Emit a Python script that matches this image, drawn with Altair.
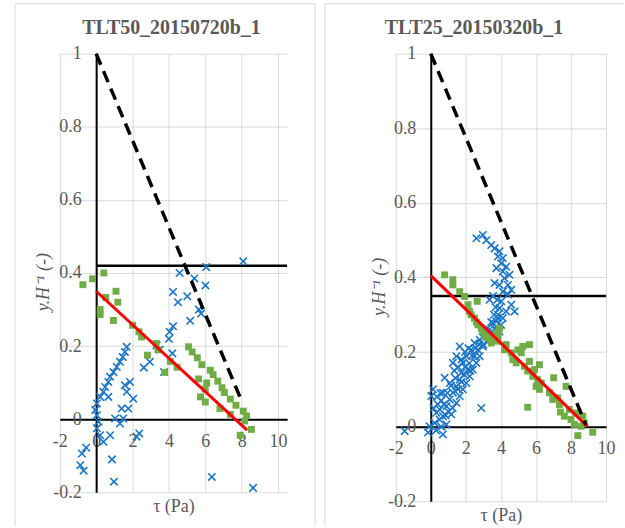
import altair as alt
import pandas as pd

# ---------------- TLT50_20150720b_1 ----------------
left_green_tau = [-0.73, -0.2, 0.42, 0.53, 1.09, 1.19, 0.22, 0.22, 0.95, 2.0, 2.35, 2.5, 3.3, 3.4,
                  2.82, 4.08, 3.77, 4.45, 5.08, 5.28, 5.56, 5.81, 6.28, 6.43, 6.69, 6.92, 7.05,
                  7.38, 7.69, 8.09, 8.27, 8.16, 8.54, 7.92, 6.08, 5.63, 6.0, 5.74, 6.0, 6.81, 7.38]
left_green_y = [0.368, 0.384, 0.40, 0.333, 0.35, 0.32, 0.30, 0.286, 0.27, 0.257, 0.239, 0.225, 0.207,
                0.19, 0.175, 0.158, 0.128, 0.142, 0.198, 0.184, 0.168, 0.149, 0.134, 0.122, 0.104,
                0.086, 0.073, 0.055, 0.038, 0.022, 0.009, -0.005, -0.028, -0.044, 0.099, 0.110,
                0.082, 0.061, 0.047, 0.029, 0.013]

left_blue_tau = [1.68, 1.58, 1.46, 1.31, 1.13, 0.95, 0.77, 0.67, 0.49, 0.40, 0.22, 0.04, -0.05, 0.04,
                 0.13, 0.04, 0.22, 0.40, 0.77, 1.04, 1.31, 1.49, 1.40, 1.68, 1.86, 1.58, 2.04,
                 1.77, 0.67, 2.62, 2.95, 3.73, -0.87, -0.69, -0.78, -0.55, 0.87, 0.98, 6.36,
                 8.63, 8.09, 6.05, 6.01, 5.4, 5.01, 4.59, 4.23, 4.5, 5.17, 5.65, 5.77, 4.23,
                 4.04, 4.0, 3.32, 3.5, 4.19, 2.37, 2.22]
left_blue_y = [0.198, 0.184, 0.17, 0.157, 0.143, 0.129, 0.116, 0.102, 0.088, 0.075, 0.061, 0.043,
               0.025, 0.011, -0.007, -0.025, -0.044, -0.062, -0.044, 0.002, -0.012, 0.002, 0.029,
               0.075, 0.102, 0.093, 0.056, 0.029, 0.061, 0.141, 0.157, 0.129, -0.126, -0.141,
               -0.094, -0.078, -0.11, -0.171, -0.158, -0.188, 0.432, 0.416, 0.366, 0.385, 0.336,
               0.40, 0.348, 0.32, 0.269, 0.30, 0.289, 0.254, 0.239, 0.22, 0.202, 0.19, 0.18,
               -0.039, -0.048]

left_fit_tau = [0.0, 8.3]
left_fit_y = [0.35, -0.03]
left_dash_tau = [0.0, 8.0]
left_dash_y = [1.0, 0.05]
left_level = 0.42

# ---------------- TLT25_20150320b_1 ----------------
right_green_tau = [0.79, 1.26, 1.26, 1.65, 1.93, 2.65, 2.12, 2.21, 2.49, 2.69, 2.88, 3.07, 3.26, 3.64,
                   3.74, 3.45, 3.83, 3.83, 4.3, 4.21, 4.59, 4.68, 4.97, 5.25, 5.16, 4.87, 5.34,
                   5.63, 5.53, 6.2, 5.92, 5.82, 6.1, 6.01, 6.3, 6.2, 7.01, 6.77, 6.96, 7.24, 7.34,
                   7.72, 7.62, 7.9, 8.0, 8.28, 8.19, 8.67, 8.76, 8.58, 8.39, 9.24, 5.53, 3.92,
                   7.4, 5.63, 2.3, 2.6, 2.95, 3.15, 3.5]
right_green_y = [0.407, 0.394, 0.38, 0.362, 0.349, 0.336, 0.327, 0.309, 0.291, 0.273, 0.264, 0.247,
                 0.238, 0.233, 0.251, 0.224, 0.247, 0.229, 0.22, 0.206, 0.198, 0.18, 0.206, 0.215,
                 0.198, 0.171, 0.162, 0.175, 0.149, 0.166, 0.153, 0.135, 0.126, 0.108, 0.117, 0.1,
                 0.131, 0.091, 0.073, 0.077, 0.059, 0.108, 0.028, 0.046, 0.019, 0.037, 0.006,
                 0.028, 0.01, 0.001, -0.024, -0.015, 0.052, 0.264, 0.039, 0.22, 0.30, 0.28, 0.255,
                 0.24, 0.235]

right_blue_tau = [2.6, 2.97, 3.17, 3.45, 3.64, 3.92, 3.83, 4.11, 4.02, 4.3, 3.74, 4.11, 4.49, 4.2,
                  3.64, 3.92, 4.4, 4.59, 4.11, 3.35, 4.4, 4.02, 4.59, 3.92, 4.3, 3.83, 4.11, 3.74,
                  4.02, 3.64, 3.92, 4.78,
                  -0.07, 0.22, 0.13, 0.03, 0.79, 0.32, 0.51, 0.69, 0.89, 0.51, 1.08, 1.26, 1.46,
                  1.65, 1.17, 0.89, 1.46, 1.65, 1.83, 2.03, 2.22, 2.4, 2.6, 2.79, 1.26, 1.46, 1.65,
                  1.83, 2.03, 2.12, 2.31, 2.5, 2.79, 2.97, 2.69, 3.17, 3.35, 3.54, 3.83, 2.88,
                  1.74, 1.08, 0.69, -1.49, -0.16, 0.69, 0.4, 0.6, 1.0, 1.9, 2.2, 2.5, 3.0, 3.3,
                  1.4, 0.3,
                  0.15, 0.35, 0.55, 0.75, 0.95, 1.15, 1.35, 1.55, 1.75, 1.95, 2.15, 2.35, 2.55,
                  2.75, 2.95, 3.15, 3.45, 1.55, 1.75, 1.95, 2.25, 0.6, 0.85, 1.25, 3.6, 3.7,
                  3.55, 3.8]
right_blue_y = [0.505, 0.514, 0.50, 0.487, 0.478, 0.47, 0.456, 0.452, 0.438, 0.429, 0.425, 0.416,
                0.407, 0.398, 0.385, 0.38, 0.38, 0.367, 0.362, 0.34, 0.354, 0.336, 0.327, 0.318,
                0.309, 0.30, 0.291, 0.282, 0.273, 0.264, 0.255, 0.309,
                0.001, 0.01, 0.10, 0.082, 0.131, 0.037, 0.046, 0.028, 0.055, 0.019, 0.073, 0.091,
                0.108, 0.126, 0.033, 0.006, 0.064, 0.082, 0.10, 0.117, 0.135, 0.153, 0.171, 0.189,
                0.171, 0.189, 0.215, 0.171, 0.189, 0.153, 0.206, 0.224, 0.233, 0.215, 0.206,
                0.242, 0.26, 0.278, 0.291, 0.05, 0.144, 0.117, 0.091, -0.012, -0.016, -0.021,
                0.06, 0.07, 0.04, 0.14, 0.17, 0.19, 0.22, 0.23, 0.13, -0.01,
                0.05, 0.08, 0.09, 0.06, 0.09, 0.11, 0.15, 0.16, 0.18, 0.20, 0.21, 0.19, 0.21,
                0.22, 0.24, 0.26, 0.28, 0.10, 0.12, 0.16, 0.15, 0.0, 0.03, 0.05, 0.30, 0.32,
                0.35, 0.34]

right_fit_tau = [0.0, 8.95]
right_fit_y = [0.405, 0.0]
right_dash_tau = [0.0, 8.85]
right_dash_y = [1.0, 0.005]
right_level = 0.35

x_ticks = [-2, 0, 2, 4, 6, 8, 10]
y_ticks = [-0.2, 0, 0.2, 0.4, 0.6, 0.8, 1]

SERIF = "Liberation Serif"
GREY = "#595959"
GRID = "#d9d9d9"
BLUE = "#1b76c6"
GREEN = "#70ad47"
CROSS = "M-1,-1L1,1M-1,1L1,-1"


def panel(title, title_dx, g_tau, g_y, b_tau, b_y, f_tau, f_y, d_tau, d_y, level,
          x_max, w, h, left_border, right_border):
    y_min, y_max = -0.2, 1.0
    x_min = -2.0
    # where the zero lines sit inside the plot area
    x0 = w * (0 - x_min) / (x_max - x_min)
    y0 = h * (y_max - 0) / (y_max - y_min)

    xs = alt.Scale(domain=[x_min, x_max], nice=False, zero=False)
    ys = alt.Scale(domain=[y_min, y_max], nice=False, zero=False)

    x_axis = alt.Axis(values=x_ticks, grid=True, gridColor=GRID, gridWidth=1,
                      domainColor="black", domainWidth=2, ticks=False,
                      offset=-(h - y0), labelPadding=13, labelFlush=False,
                      labelOverlap=False, labelFont=SERIF, labelFontSize=18,
                      labelColor=GREY, labelExpr="'' + datum.value",
                      title="τ (Pa)", titleFont=SERIF, titleFontSize=18,
                      titleFontWeight="normal", titleColor=GREY,
                      titleY=(h - y0) + 14, titleBaseline="middle")
    y_axis = alt.Axis(values=y_ticks, grid=True, gridColor=GRID, gridWidth=1,
                      domainColor="black", domainWidth=2, ticks=False,
                      offset=-x0, labelPadding=15, labelFlush=False,
                      labelOverlap=False, labelFont=SERIF, labelFontSize=18,
                      labelColor=GREY, labelExpr="'' + datum.value",
                      title="y.H⁻¹ (-)", titleFont=SERIF, titleFontSize=18,
                      titleFontStyle="italic", titleFontWeight="normal",
                      titleColor=GREY, titleX=-x0 - 16, titleY=h * 0.52,
                      titleBaseline="middle", titleAngle=-90)

    green = pd.DataFrame({"tau": g_tau, "y": g_y})
    blue = pd.DataFrame({"tau": b_tau, "y": b_y})
    fit = pd.DataFrame({"tau": f_tau, "y": f_y})
    dash = pd.DataFrame({"tau": d_tau, "y": d_y})
    lev = pd.DataFrame({"tau": [0.0, x_max], "y": [level, level]})

    base_x = alt.X("tau:Q", scale=xs, axis=x_axis)
    base_y = alt.Y("y:Q", scale=ys, axis=y_axis)

    layers = []
    one = pd.DataFrame({"k": [0]})
    # panel frame
    lx, rx = left_border
    layers.append(alt.Chart(one).mark_rule(color=GRID, strokeWidth=1).encode(
        x=alt.value(lx), y=alt.value(-50), y2=alt.value(474)))
    layers.append(alt.Chart(one).mark_rule(color=GRID, strokeWidth=1).encode(
        x=alt.value(lx), x2=alt.value(rx), y=alt.value(-50)))
    if right_border:
        layers.append(alt.Chart(one).mark_rule(color=GRID, strokeWidth=1).encode(
            x=alt.value(rx), y=alt.value(-50), y2=alt.value(474)))
    # panel heading
    layers.append(alt.Chart(one).mark_text(
        text=title, font=SERIF, fontSize=20, fontWeight="bold", color=GREY,
        align="center", baseline="middle").encode(
        x=alt.value(w / 2 + title_dx), y=alt.value(-26)))

    layers.append(alt.Chart(lev).mark_line(color="black", strokeWidth=2.5).encode(
        x=base_x, y=base_y))
    layers.append(alt.Chart(blue).mark_point(shape=CROSS, filled=False, color=BLUE,
                                             strokeWidth=1.6, size=55, opacity=1).encode(
        x=base_x, y=base_y))
    layers.append(alt.Chart(green).mark_square(color=GREEN, size=48, opacity=1).encode(
        x=base_x, y=base_y))
    layers.append(alt.Chart(fit).mark_line(color="#ff0000", strokeWidth=3).encode(
        x=base_x, y=base_y))
    layers.append(alt.Chart(dash).mark_line(color="black", strokeWidth=3.5,
                                            strokeDash=[12, 7]).encode(
        x=base_x, y=base_y))

    return alt.layer(*layers).properties(width=w, height=h)


left = panel("TLT50_20150720b_1", -2, left_green_tau, left_green_y, left_blue_tau,
             left_blue_y, left_fit_tau, left_fit_y, left_dash_tau, left_dash_y,
             left_level, 10.5, 228, 440, (-45, 256), True)
right = panel("TLT25_20150320b_1", -27, right_green_tau, right_green_y, right_blue_tau,
              right_blue_y, right_fit_tau, right_fit_y, right_dash_tau, right_dash_y,
              right_level, 10.0, 211, 449, (-71, 229), False)

chart = alt.hconcat(left, right, spacing=8).properties(
    padding={"left": 14, "top": 2, "right": 0, "bottom": 0},
    background="white",
).configure_view(stroke=None).configure_axis(labelFont=SERIF, titleFont=SERIF)

chart.save("out.html", embed_options={"renderer": "svg", "actions": False})
